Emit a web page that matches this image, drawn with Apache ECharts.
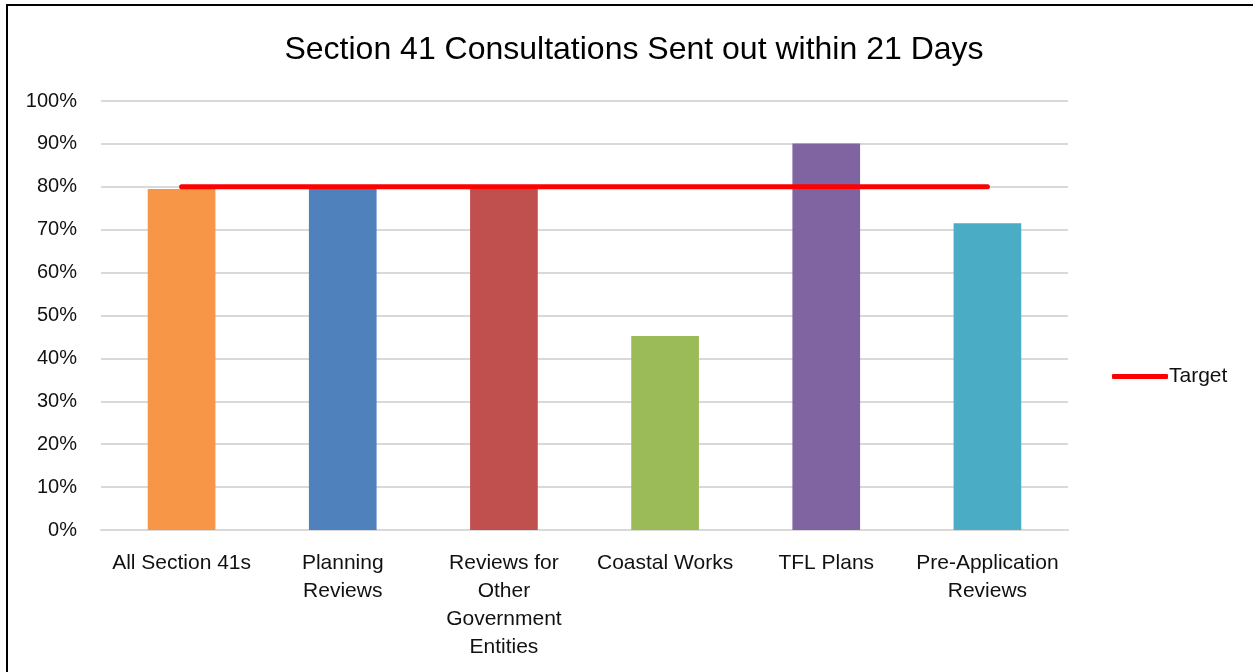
<!DOCTYPE html>
<html>
<head>
<meta charset="utf-8">
<script src="https://cdn.jsdelivr.net/npm/echarts@6/dist/echarts.min.js"></script>
<style>
html,body{margin:0;padding:0;background:#fff;}
#wrap{position:relative;width:1253px;height:672px;}
#chart{position:absolute;left:0;top:0;width:1253px;height:672px;}
#frame{position:absolute;left:6px;top:4px;right:0;bottom:0;border-top:2px solid #000;border-left:2px solid #000;pointer-events:none;}
</style>
</head>
<body>
<div id="wrap"><div id="chart"></div><div id="frame"></div></div>
<script>
const categories = ['All Section 41s', 'Planning\nReviews', 'Reviews for\nOther\nGovernment\nEntities', 'Coastal Works', 'TFL Plans', 'Pre-Application\nReviews'];
const values = [79.5, 79.5, 79.5, 45.2, 90.1, 71.5];
const target = [80, 80, 80, 80, 80, 80];
const barColors = ['#F79646', '#4F81BD', '#C0504D', '#9BBB59', '#8064A2', '#4BACC6'];
const titleText = 'Section 41 Consultations Sent out within 21 Days';

const font = "'Liberation Sans', Arial, sans-serif";
const chart = echarts.init(document.getElementById('chart'), null, {renderer: 'canvas'});
chart.setOption({
  animation: false,
  backgroundColor: '#fff',
  title: {
    text: titleText,
    left: 629, top: 29, textAlign: 'center',
    textStyle: {fontFamily: font, fontSize: 32, fontWeight: 'normal', color: '#000'}
  },
  legend: {
    data: [{name: 'Target', icon: 'roundRect'}],
    left: 1107, top: 361,
    itemWidth: 56, itemHeight: 5, itemGap: 10,
    textStyle: {fontFamily: font, fontSize: 21, color: '#111', padding: [0,0,0,-4]}
  },
  grid: {left: 101, right: 185, top: 101, bottom: 142, containLabel: false},
  xAxis: {
    type: 'category',
    data: categories,
    axisLine: {show: true, lineStyle: {color: '#D9D9D9', width: 2}},
    axisTick: {show: false},
    axisLabel: {fontFamily: font, fontSize: 21, color: '#111', lineHeight: 28, margin: 19, interval: 0}
  },
  yAxis: {
    type: 'value', min: 0, max: 100, interval: 10,
    axisLine: {show: false}, axisTick: {show: false},
    axisLabel: {formatter: '{value}%', fontFamily: font, fontSize: 20, color: '#111', margin: 24},
    splitLine: {lineStyle: {color: '#D9D9D9', width: 2}}
  },
  series: [
    {
      type: 'bar', name: 'Values',
      data: values.map((v, i) => ({value: v, itemStyle: {color: barColors[i]}})),
      barCategoryGap: '58%',
      z: 2
    },
    {
      type: 'line', name: 'Target',
      data: target,
      symbol: 'none',
      lineStyle: {color: '#FF0000', width: 5, cap: 'round'},
      itemStyle: {color: '#FF0000'},
      z: 5
    }
  ]
});
</script>
</body>
</html>
